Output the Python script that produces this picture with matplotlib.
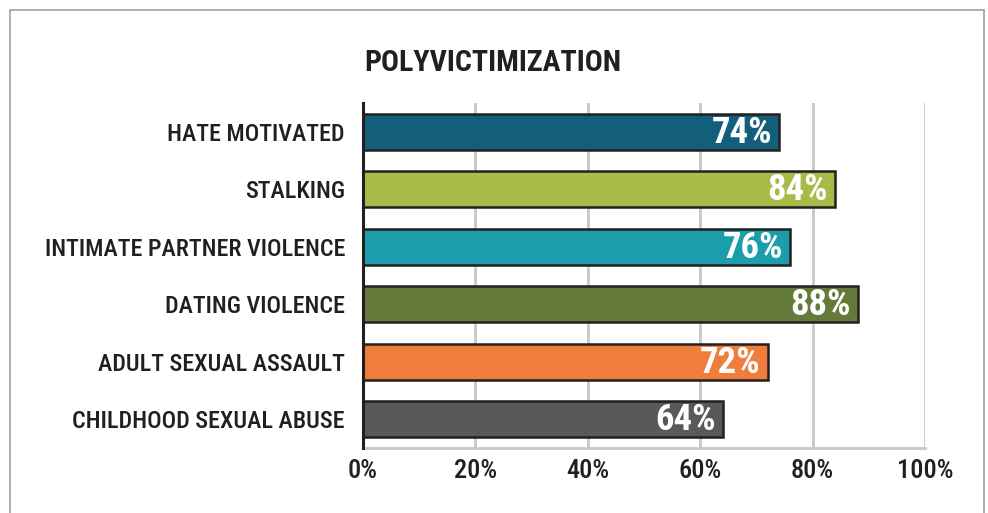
import matplotlib.pyplot as plt
from matplotlib.patches import Rectangle

categories = ['HATE MOTIVATED', 'STALKING', 'INTIMATE PARTNER VIOLENCE',
              'DATING VIOLENCE', 'ADULT SEXUAL ASSAULT', 'CHILDHOOD SEXUAL ABUSE']
values = [74, 84, 76, 88, 72, 64]
colors = ['#135f7b', '#a7bb48', '#1b9dab', '#647a3a', '#ef7d3b', '#58595b']
xticks = [0, 20, 40, 60, 80, 100]

plt.rcParams['font.family'] = ['Roboto Condensed', 'DejaVu Sans']
plt.rcParams['font.stretch'] = 'condensed'

fig = plt.figure(figsize=(9.88, 5.13), dpi=100)
ax = fig.add_axes([0.3674, 0.1267, 0.5688, 0.6723])

# outer frame
fig.patches.append(Rectangle((10 / 988, -0.1), 974 / 988, 1 - 10 / 513 + 0.1,
                             transform=fig.transFigure, fill=False,
                             edgecolor='#a0a0a0', linewidth=1.2))

y = list(range(len(categories)))
ax.barh(y, values, height=0.63, color=colors, edgecolor='#231f20',
        linewidth=1.8, zorder=3)

for yi, v in zip(y, values):
    ax.text(v - 1.2, yi + 0.02, f'{v}%', ha='right', va='center', color='white',
            fontsize=26.5, fontweight='bold', zorder=4)

ax.set_xlim(0, 100)
ax.set_ylim(5.5, -0.5)
ax.set_yticks(y)
ax.set_yticklabels(categories, fontsize=17.4, fontweight='medium', color='#231f20')
ax.set_xticks(xticks)
ax.set_xticklabels([f'{t}%' for t in xticks], fontsize=19, fontweight='medium',
                   color='#231f20')
ax.tick_params(length=0)
ax.tick_params(axis='y', pad=13)
ax.tick_params(axis='x', pad=8)

ax.grid(axis='x', color='#c8c8c8', linewidth=2, zorder=0)
for s in ['top', 'right']:
    ax.spines[s].set_visible(False)
ax.spines['left'].set_color('#231f20')
ax.spines['left'].set_linewidth(2.2)
ax.spines['left'].set_zorder(5)
ax.spines['bottom'].set_color('#c8c8c8')
ax.spines['bottom'].set_linewidth(2)

fig.text(0.369, 0.878, 'POLYVICTIMIZATION', fontsize=21.5, fontweight='bold',
         color='#231f20', ha='left', va='center')

fig.savefig('out.png', dpi=100)
